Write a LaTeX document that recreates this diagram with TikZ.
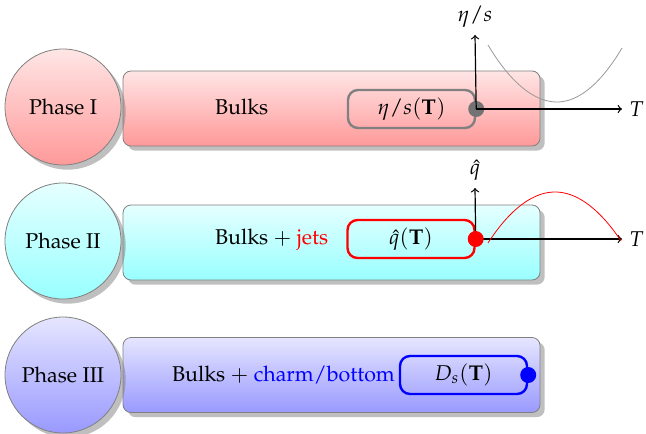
\documentclass[tikz,border=0pt]{standalone}
\usepackage{amsmath}
\usepackage[T1]{fontenc}
\usepackage{mathpazo}
\usetikzlibrary{shadows}

\begin{document}
\begin{tikzpicture}[x=0.5pt, y=-0.5pt,
  every node/.style = {font=\fontsize{10.7pt}{13pt}\selectfont},
  phase/.style = {circle, draw=black!50, minimum size=58pt, drop shadow,
                  top color=#1!10, bottom color=#1!40},
  bulk/.style = {rectangle, rounded corners=4pt, draw=black!50, minimum width=208.5pt,
                 minimum height=37.5pt, drop shadow, top color=#1!10, bottom color=#1!40},
  param/.style = {rectangle, rounded corners=5pt, draw=#1, very thick,
                  minimum width=63.5pt, minimum height=19pt},
  dot/.style = {circle, fill=#1, inner sep=0pt, minimum size=8pt},
  axis/.style = {->, semithick},
  ]
  \useasboundingbox (0,0) rectangle (646,433);

  \node[bulk=red] (bulk1) at (331.5,108.5) {};
  \node[phase=red] (phase1) at (63,107) {Phase I};
  \node[anchor=west] (text1) at (208,107) {Bulks};
  \node[param=black!50] (box1) at (411.5,109) {$\eta/s(\mathbf{T})$};
  \node[dot=black!55] (dot1) at (box1.east) {};
  \coordinate (top1) at (475,35);
  \coordinate (right1) at (622,109);
  \draw[axis] (dot1.center) -- (top1) node[above] {$\eta/s$};
  \draw[axis] (dot1.center) -- (right1) node[right] {$T$};
  \draw[black!40] (488,45) parabola bend (557,102) (622,48);

  \node[bulk=cyan] (bulk2) at (331.5,242.5) {};
  \node[phase=cyan] (phase2) at (63,241) {Phase II};
  \node[anchor=west] (text2) at (208,240) {Bulks $+$ \textcolor{red}{jets}};
  \node[param=red] (box2) at (411,239) {$\hat{q}(\mathbf{T})$};
  \coordinate (top2) at (475,188);
  \coordinate (right2) at (622,239);
  \draw[axis] (box2.east) -- (top2) node[above] {$\hat{q}$};
  \draw[axis] (box2.east) -- (right2) node[right] {$T$};
  \node[dot=red] (dot2) at (box2.east) {};
  \draw[red] (488,243) parabola bend (555,192) (621,241);

  \node[bulk=blue] (bulk3) at (331.5,375) {};
  \node[phase=blue] (phase3) at (63,375) {Phase III};
  \node[anchor=west] (text3) at (165,375) {Bulks $+$ \textcolor{blue}{charm/bottom}};
  \node[param=blue] (box3) at (463.5,375) {$D_s(\mathbf{T})$};
  \node[dot=blue] (dot3) at (box3.east) {};
\end{tikzpicture}
\end{document}
